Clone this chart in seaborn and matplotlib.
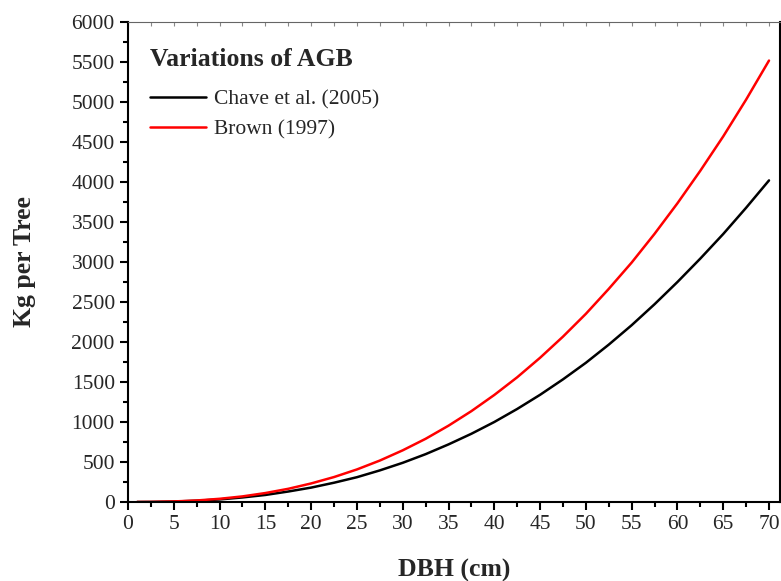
import pandas as pd
import seaborn as sns
import matplotlib.pyplot as plt
from matplotlib.ticker import MultipleLocator

# DBH (cm) and AGB (kg per tree)
dbh = [1, 2.5, 5, 7.5, 10, 12.5, 15, 17.5, 20, 22.5, 25, 27.5, 30, 32.5, 35,
       37.5, 40, 42.5, 45, 47.5, 50, 52.5, 55, 57.5, 60, 62.5, 65, 67.5, 70]
chave = [0.1, 1.0, 5.5, 16, 32, 57, 88, 131, 180, 241, 310, 395, 490, 598, 720,
         853, 1000, 1163, 1340, 1533, 1740, 1967, 2210, 2472, 2750, 3043, 3350, 3678, 4020]
brown = [0.12, 1.2, 7, 19, 40, 70, 112, 165, 232, 312, 407, 518, 646, 790, 954,
         1136, 1338, 1559, 1803, 2067, 2352, 2664, 2993, 3352, 3734, 4141, 4570, 5030, 5518]
series = ["Chave et al. (2005)", "Brown (1997)"]

df = pd.DataFrame({"DBH": dbh * 2,
                   "AGB": chave + brown,
                   "Model": [series[0]] * len(dbh) + [series[1]] * len(dbh)})

sns.set_style("ticks")
plt.rcParams['font.family'] = ['Liberation Serif', 'DejaVu Serif']

fig = plt.figure(figsize=(7.81, 5.81), dpi=100)
ax = fig.add_axes([128 / 781, 79 / 581, 652 / 781, 480 / 581])

sns.lineplot(data=df, x="DBH", y="AGB", hue="Model", palette=["black", "red"],
             linewidth=1.8, ax=ax)

ax.set_xlim(0, 71.2)
ax.set_ylim(0, 6000)
ax.xaxis.set_major_locator(MultipleLocator(5))
ax.xaxis.set_minor_locator(MultipleLocator(2.5))
ax.yaxis.set_major_locator(MultipleLocator(500))
ax.yaxis.set_minor_locator(MultipleLocator(250))
ax.tick_params(which='major', direction='out', length=6, width=1.5, labelsize=15.5, color='black')
ax.tick_params(which='minor', direction='out', length=3.5, width=1.5, color='black')

for s in ['left', 'bottom', 'right']:
    ax.spines[s].set_linewidth(1.5)
    ax.spines[s].set_color('black')
ax.spines['top'].set_linewidth(0.8)
ax.spines['top'].set_color('#666666')

top = ax.secondary_xaxis('top')
top.xaxis.set_major_locator(MultipleLocator(5))
top.xaxis.set_minor_locator(MultipleLocator(2.5))
top.tick_params(which='both', direction='in', length=3, width=0.8, color='#888888', labeltop=False)
top.spines['top'].set_visible(False)

ax.set_xlabel("DBH (cm)", fontsize=18.5, fontweight='bold', labelpad=18)
ax.set_ylabel("Kg per Tree", fontsize=18.5, fontweight='bold')
ax.yaxis.set_label_coords(-0.141, 0.5)

leg = ax.legend(title="Variations of AGB", loc='upper left', frameon=False,
                bbox_to_anchor=(0.0, 0.99), fontsize=15.5, handlelength=2.6,
                handletextpad=0.4, borderaxespad=0.6, labelspacing=0.5)
leg.get_title().set_fontweight('bold')
leg.get_title().set_fontsize(18.5)
leg._legend_box.align = "left"
leg._legend_box.sep += 5

fig.savefig("out.png", dpi=100)
